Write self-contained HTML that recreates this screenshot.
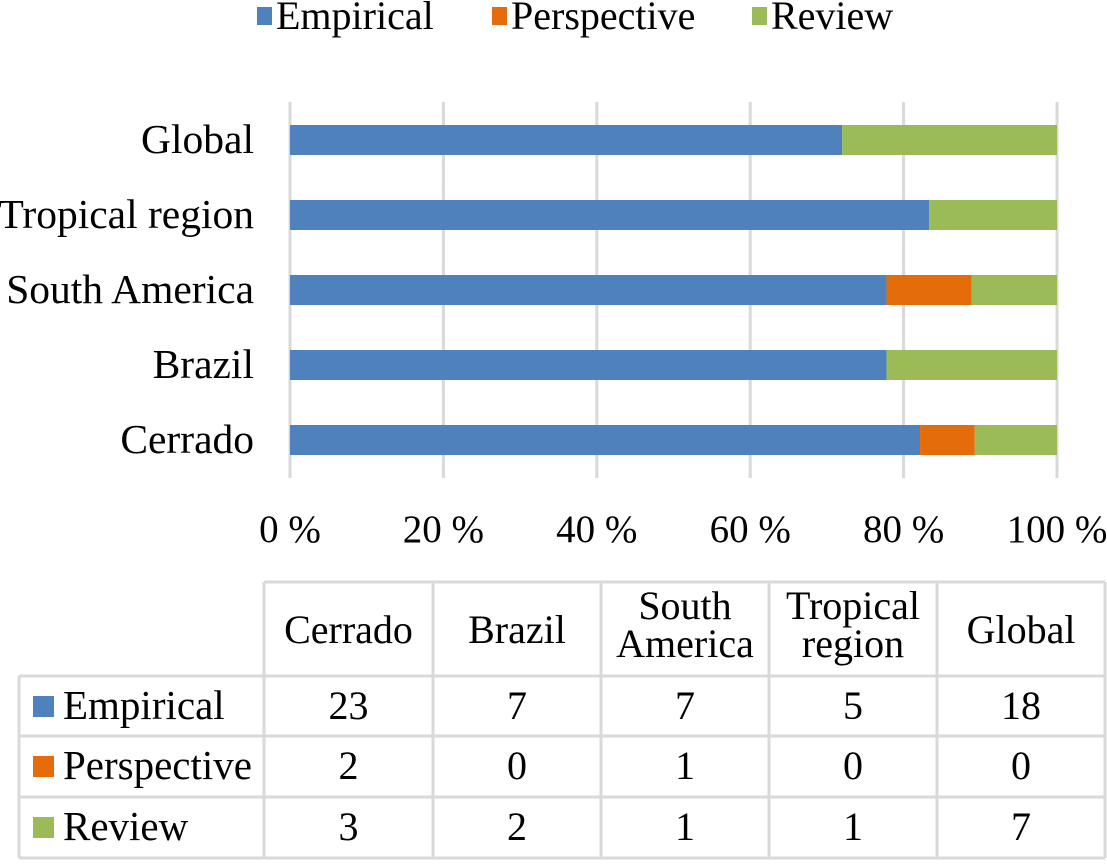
<!DOCTYPE html>
<html><head><meta charset="utf-8"><style>
body{margin:0;background:#fff;width:1107px;height:861px;overflow:hidden;font-family:"Liberation Serif",serif;}
svg text{font-family:"Liberation Serif",serif;fill:#000;}
</style></head><body>
<svg width="1107" height="861">
<g id="legend"></g>
<g id="grid"></g>
<g id="bars"></g>
<g id="labels"></g>
<g id="table"></g>
</svg>
<script>
const categories=["Cerrado","Brazil","South America","Tropical region","Global"];
const headerLabels=[["Cerrado"],["Brazil"],["South","America"],["Tropical","region"],["Global"]];
const seriesNames=["Empirical","Perspective","Review"];
const empirical=[23,7,7,5,18];
const perspective=[2,0,1,0,0];
const review=[3,2,1,1,7];
const ticks=[0,20,40,60,80,100];
const colors=["#4f81bd","#e46c0a","#9bbb59"];
const NS="http://www.w3.org/2000/svg";
function mk(t,a,p){const e=document.createElementNS(NS,t);for(const k in a)e.setAttribute(k,a[k]);p.appendChild(e);return e;}
const x=v=>290+v*7.67;
const yOf=i=>125+(categories.length-1-i)*75;
const grid=document.getElementById('grid'),bars=document.getElementById('bars'),labels=document.getElementById('labels');
ticks.forEach(t=>{const l=mk('line',{x1:x(t),x2:x(t),y1:102,y2:478,stroke:'#d9d9d9','stroke-width':3},grid);


const tx=mk('text',{x:x(t),y:542,'text-anchor':'middle','font-size':39},labels);tx.textContent=t+' %';

});
const series=[empirical,perspective,review];
categories.forEach((c,i)=>{const tot=empirical[i]+perspective[i]+review[i];let acc=0;
series.forEach((s,j)=>{const w=s[i]/tot*100;if(w>0){const r=mk('rect',{x:x(acc),y:yOf(i),width:x(acc+w)-x(acc),height:30,fill:colors[j]},bars);

}acc+=w;});
const t=mk('text',{x:254,y:yOf(i)+28,'text-anchor':'end','font-size':41.5},labels);t.textContent=c;

});
// legend
const lg=document.getElementById('legend');const lx=[257,492,752];
seriesNames.forEach((n,j)=>{mk('rect',{x:lx[j],y:7,width:15,height:18,fill:colors[j]},lg);
const t=mk('text',{x:lx[j]+19,y:29,'font-size':40},lg);t.textContent=n;

});
// table
const tb=document.getElementById('table');const cols=[264,433,601,769,937,1105];const rows=[582,676,736,797,858];
const st={stroke:'#d9d9d9','stroke-width':3};
mk('line',Object.assign({x1:264,x2:1105,y1:582,y2:582},st),tb);
for(let r=1;r<rows.length;r++)mk('line',Object.assign({x1:19,x2:1105,y1:rows[r],y2:rows[r]},st),tb);
mk('line',Object.assign({x1:19,x2:19,y1:676,y2:858},st),tb);
cols.forEach(cx=>mk('line',Object.assign({x1:cx,x2:cx,y1:582,y2:858},st),tb));
headerLabels.forEach((h,i)=>{const cx=(cols[i]+cols[i+1])/2;
h.forEach((ln,k)=>{const t=mk('text',{x:cx,y:h.length==1?643:619+k*38,'text-anchor':'middle','font-size':40},tb);t.textContent=ln;

});});
series.forEach((s,j)=>{const ry=rows[j+1];mk('rect',{x:33,y:ry+20,width:21,height:21,fill:colors[j]},tb);
const t=mk('text',{x:63,y:ry+43,'font-size':41},tb);t.textContent=seriesNames[j];


s.forEach((v,i)=>{const c=mk('text',{x:(cols[i]+cols[i+1])/2,y:ry+43,'text-anchor':'middle','font-size':40},tb);c.textContent=v;

});});
</script>
</body></html>
